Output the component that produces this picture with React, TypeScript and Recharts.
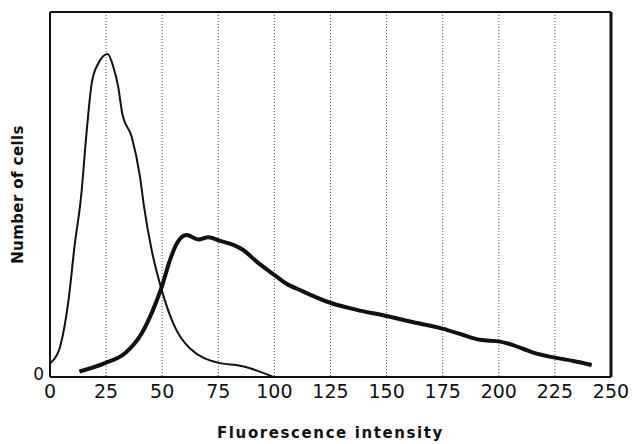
import { LineChart, Line, XAxis, YAxis, CartesianGrid, ReferenceLine } from "recharts"

// thin curve: narrow peak near 25
const controlX = [0, 1, 4.5, 8.2, 11.1, 13.7, 16.4, 18.6, 21.5, 25.7, 28.2, 30.4, 32.2, 36.4, 40.1, 41.9, 45.3, 49.8, 54.9, 62.4, 75.8, 84.7, 89.1, 99.5]
const controlY = [3.8, 4.3, 8.3, 20.8, 36.7, 48.5, 67.7, 80.5, 85.9, 88.5, 85, 79.5, 72.2, 65.8, 54.9, 46.7, 34.8, 23.8, 14.7, 7.8, 3.8, 3.1, 2.4, 0]

// thick curve: broad distribution with long tail
const stainedX = [13.1, 24.5, 33.4, 40.9, 45.3, 49.8, 53.5, 56.5, 60.9, 66.1, 70.5, 75.8, 81.7, 86.1, 92.1, 101, 104, 112.9, 125.5, 136.7, 150, 160.4, 175.3, 184.2, 191.6, 200.5, 205, 215.4, 225, 233.2, 241.4]
const stainedY = [1.5, 3.8, 6.5, 12, 17.5, 24.7, 32.1, 36.6, 38.9, 37.7, 38.3, 37.3, 36.2, 34.8, 31.6, 27.5, 26.1, 23.4, 20.2, 18.4, 16.7, 15.2, 13.2, 11.5, 10.2, 9.7, 9, 6.7, 5.3, 4.4, 3.3]

const xTicks = [0, 25, 50, 75, 100, 125, 150, 175, 200, 225, 250]

const control = controlX.map((x, i) => ({ x, y: controlY[i] }))
const stained = stainedX.map((x, i) => ({ x, y: stainedY[i] }))

const INK = "#111"
const font = "DejaVu Sans, sans-serif"

export default function App() {
  return (
    <div style={{ position: "absolute", left: 0, top: 0, background: "#fff" }}>
      <LineChart width={638} height={444} margin={{ top: 12, right: 27, bottom: 0, left: 0 }}>
        <CartesianGrid horizontal={false} stroke="#555" strokeDasharray="1 2" />
        <XAxis
          dataKey="x"
          type="number"
          domain={[0, 250]}
          ticks={xTicks}
          height={67}
          tickLine={false}
          axisLine={{ stroke: INK, strokeWidth: 2 }}
          tick={{ fill: INK, fontSize: 19, fontFamily: font }}
          label={{ value: "Fluorescence intensity", position: "center", dy: 22, fill: INK, fontSize: 15, fontWeight: "bold", fontFamily: font, letterSpacing: 1.6 }}
        />
        <YAxis
          type="number"
          domain={[0, 100]}
          ticks={[0]}
          width={50}
          tickLine={false}
          axisLine={{ stroke: INK, strokeWidth: 2 }}
          tick={{ fill: INK, fontSize: 17, fontFamily: font, dy: -3, dx: 2 }}
          label={{ value: "Number of cells", angle: -90, position: "center", dx: -7, fill: INK, fontSize: 15, fontWeight: "bold", fontFamily: font, letterSpacing: 0.4 }}
        />
        {/* frame around the plot area */}
        <ReferenceLine x={0} stroke={INK} strokeWidth={2} />
        <ReferenceLine y={0} stroke={INK} strokeWidth={2} />
        <ReferenceLine y={100} stroke={INK} strokeWidth={2} />
        <ReferenceLine x={250} stroke={INK} strokeWidth={3} />
        <Line data={control} dataKey="y" type="monotone" stroke={INK} strokeWidth={2} dot={false} isAnimationActive={false} />
        <Line data={stained} dataKey="y" type="monotone" stroke={INK} strokeWidth={4} dot={false} isAnimationActive={false} />
      </LineChart>
    </div>
  )
}
